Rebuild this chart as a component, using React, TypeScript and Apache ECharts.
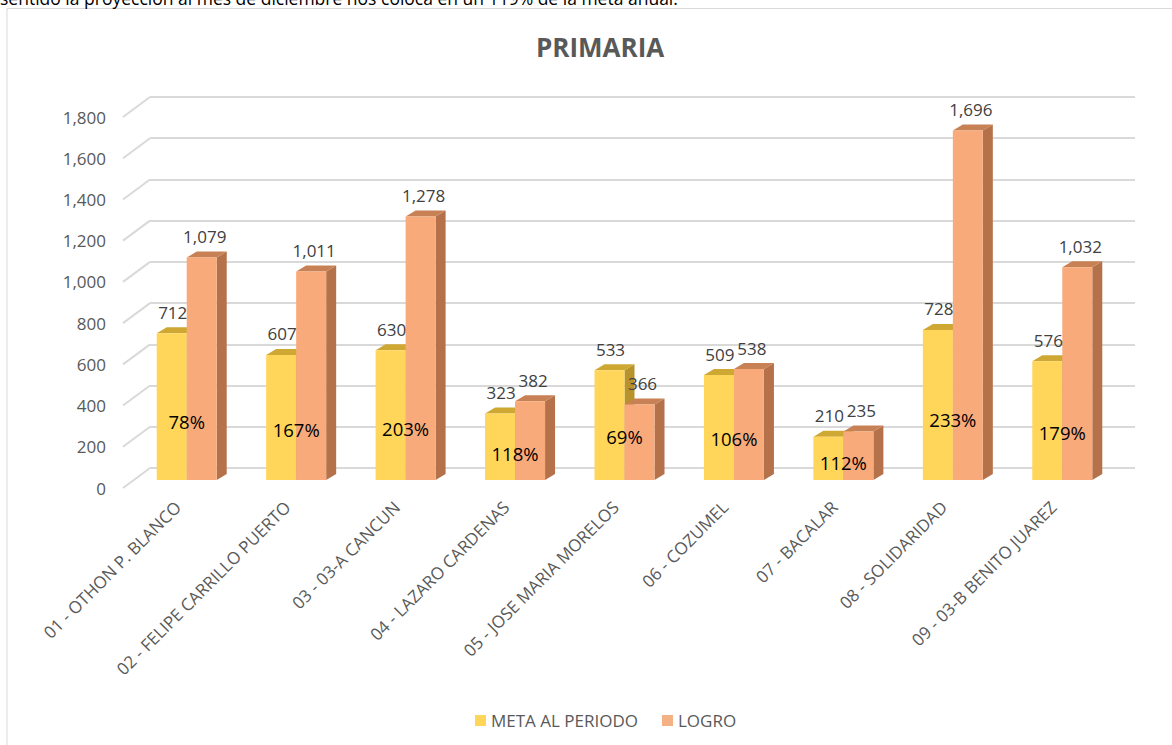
import React, { useEffect, useRef } from "react";
import * as echarts from "echarts";

const categories = [
  "01 - OTHON P. BLANCO",
  "02 - FELIPE CARRILLO PUERTO",
  "03 - 03-A CANCUN",
  "04 - LAZARO CARDENAS",
  "05 - JOSE MARIA MORELOS",
  "06 - COZUMEL",
  "07 - BACALAR",
  "08 - SOLIDARIDAD",
  "09 - 03-B BENITO JUAREZ",
];
const metaValues = [712, 607, 630, 323, 533, 509, 210, 728, 576];
const logroValues = [1079, 1011, 1278, 382, 366, 538, 235, 1696, 1032];
const pctValues = [78, 167, 203, 118, 69, 106, 112, 233, 179];
const yTicks = [0, 200, 400, 600, 800, 1000, 1200, 1400, 1600, 1800];

const FONT = "'Open Sans', 'Liberation Sans', sans-serif";
const BW = 30; // bar face width
const DX = 10; // bar depth x
const DY = -6; // bar depth y
const SX = 9; // bar plane shift x from front plane
const SY = -8; // bar plane shift y
const WALL_DX = 27;
const WALL_DY = -20;

const fmt = (v: number) => v.toLocaleString("en-US");

function makeBarRender(isMeta: boolean, front: string, top: string, side: string) {
  return (params: any, api: any) => {
    const i = api.value(0);
    const v = api.value(1);
    const pTop = api.coord([i, v]);
    const pBase = api.coord([i, 0]);
    const x0 = pTop[0] + SX + (isMeta ? -BW : 0);
    const y0 = pTop[1] + SY;
    const yb = pBase[1] + SY;
    return {
      type: "group",
      children: [
        {
          type: "polygon",
          shape: {
            points: [
              [x0 + BW, y0],
              [x0 + BW + DX, y0 + DY],
              [x0 + BW + DX, yb + DY],
              [x0 + BW, yb],
            ],
          },
          style: { fill: side },
        },
        {
          type: "polygon",
          shape: {
            points: [
              [x0, y0],
              [x0 + DX, y0 + DY],
              [x0 + BW + DX, y0 + DY],
              [x0 + BW, y0],
            ],
          },
          style: { fill: top },
        },
        {
          type: "rect",
          shape: { x: x0, y: y0, width: BW, height: yb - y0 },
          style: { fill: front },
        },
      ],
    };
  };
}

export default function App() {
  const ref = useRef<HTMLDivElement>(null);
  useEffect(() => {
    if (!ref.current) return;
    const chart = echarts.init(ref.current, undefined, { renderer: "svg" });
    const labelData = categories.map((_, i) => [i, metaValues[i], logroValues[i], pctValues[i]]);
    chart.setOption({
      animation: false,
      backgroundColor: "#ffffff",
      textStyle: { fontFamily: FONT },
      title: {
        text: "PRIMARIA",
        left: 531,
        top: 29,
        textStyle: { fontFamily: FONT, fontSize: 26, fontWeight: "bold", color: "#595959" },
      },
      legend: {
        data: ["META AL PERIODO", "LOGRO"],
        top: 707,
        left: 470,
        icon: "rect",
        itemWidth: 11,
        itemHeight: 11,
        itemGap: 24,
        textStyle: { fontFamily: FONT, fontSize: 17, color: "#595959" },
      },
      graphic: [
        {
          type: "rect",
          shape: { x: 7, y: 8.5, width: 1300, height: 900 },
          style: { fill: "none", stroke: "#D9D9D9", lineWidth: 1 },
          silent: true,
        },
        {
          type: "text",
          x: 0,
          y: -2,
          style: {
            text: "sentido la proyección al mes de diciembre nos coloca en un 119% de la meta anual.",
            fontFamily: FONT,
            fontSize: 17.5,
            fill: "#000000",
            verticalAlign: "middle",
          },
          silent: true,
        },
      ],
      grid: [
        { left: 123, top: 117, width: 985, height: 371 },
        { left: 150, top: 97, width: 985, height: 371 },
      ],
      xAxis: [
        {
          type: "category",
          gridIndex: 0,
          data: categories,
          axisLine: { show: false },
          axisTick: { show: false },
          axisLabel: {
            interval: 0,
            rotate: 45,
            margin: 16,
            fontSize: 17,
            color: "#595959",
            fontFamily: FONT,
          },
        },
        {
          type: "category",
          gridIndex: 1,
          data: categories,
          show: false,
        },
      ],
      yAxis: [
        {
          type: "value",
          gridIndex: 0,
          min: 0,
          max: 1800,
          interval: 200,
          axisLine: { show: false },
          axisTick: { show: false },
          splitLine: { show: false },
          axisLabel: {
            margin: 17,
            fontSize: 17,
            color: "#595959",
            fontFamily: FONT,
            formatter: (v: number) => fmt(v),
          },
        },
        {
          type: "value",
          gridIndex: 1,
          min: 0,
          max: 1800,
          interval: 200,
          axisLine: { show: false },
          axisTick: { show: false },
          axisLabel: { show: false },
          splitLine: { show: true, lineStyle: { color: "#D9D9D9", width: 2 } },
        },
      ],
      series: [
        {
          type: "custom",
          name: "wall",
          xAxisIndex: 0,
          yAxisIndex: 0,
          silent: true,
          clip: false,
          data: yTicks.map((t) => [0, t]),
          renderItem: (params: any, api: any) => {
            const p = api.coord([0, api.value(1)]);
            const x = params.coordSys.x;
            return {
              type: "line",
              shape: { x1: x, y1: p[1], x2: x + WALL_DX, y2: p[1] + WALL_DY },
              style: { stroke: "#D9D9D9", lineWidth: 2 },
            };
          },
        },
        {
          type: "custom",
          name: "META AL PERIODO",
          xAxisIndex: 0,
          yAxisIndex: 0,
          clip: false,
          itemStyle: { color: "#FFD55A" },
          data: metaValues.map((v, i) => [i, v]),
          renderItem: makeBarRender(true, "#FFD55A", "#CFA733", "#B8922A"),
        },
        {
          type: "custom",
          name: "LOGRO",
          xAxisIndex: 0,
          yAxisIndex: 0,
          clip: false,
          itemStyle: { color: "#F4B183" },
          data: logroValues.map((v, i) => [i, v]),
          renderItem: makeBarRender(false, "#F9AA7A", "#C88154", "#B5714A"),
        },
        {
          type: "custom",
          name: "labels",
          xAxisIndex: 0,
          yAxisIndex: 0,
          clip: false,
          silent: true,
          z: 10,
          data: labelData,
          renderItem: (params: any, api: any) => {
            const i = api.value(0);
            const m = api.value(1);
            const l = api.value(2);
            const pct = api.value(3);
            const pm = api.coord([i, m]);
            const pl = api.coord([i, l]);
            const pb = api.coord([i, 0]);
            const cx = pm[0] + SX;
            const yb = pb[1] + SY;
            const ym = pm[1] + SY;
            const yl = pl[1] + SY;
            const valStyle = {
              fontFamily: FONT,
              fontSize: 17,
              fill: "#404040",
              align: "center",
              verticalAlign: "middle",
            };
            return {
              type: "group",
              children: [
                {
                  type: "text",
                  x: cx - BW / 2 + 1,
                  y: ym + DY - 15,
                  style: { ...valStyle, text: fmt(m) },
                },
                {
                  type: "text",
                  x: cx + BW / 2 + 3,
                  y: yl + DY - 15,
                  style: { ...valStyle, text: fmt(l) },
                },
                {
                  type: "text",
                  x: cx,
                  y: yb - 0.4 * (yb - ym),
                  style: {
                    text: pct + "%",
                    fontFamily: FONT,
                    fontSize: 18.5,
                    fill: "#000000",
                    align: "center",
                    verticalAlign: "middle",
                  },
                },
              ],
            };
          },
        },
      ],
    });
    return () => chart.dispose();
  }, []);
  return (
    <div
      ref={ref}
      style={{ position: "fixed", left: 0, top: 0, width: 1172, height: 745 }}
    />
  );
}
